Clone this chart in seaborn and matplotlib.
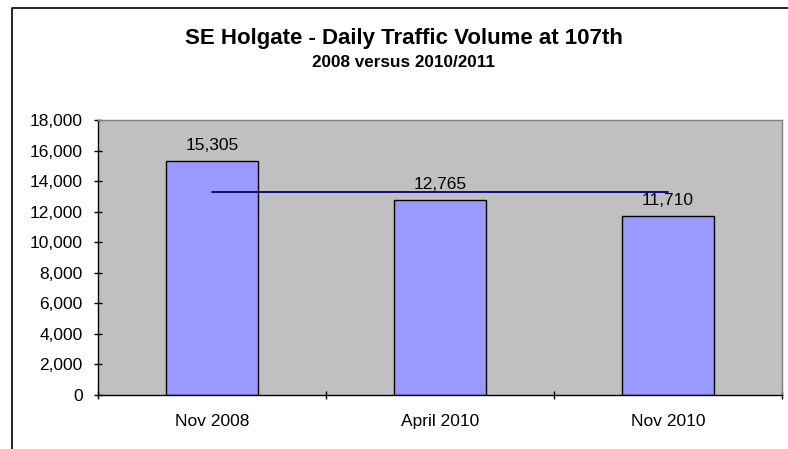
import matplotlib
matplotlib.use("Agg")
import matplotlib.pyplot as plt
import matplotlib.lines as mlines
import numpy as np
import pandas as pd
import seaborn as sns

periods = ["Nov 2008", "April 2010", "Nov 2010"]
volumes = [15305, 12765, 11710]
average = np.mean(volumes)

df = pd.DataFrame({"period": periods, "volume": volumes})

sns.set_style("white")
plt.rcParams["font.family"] = ["Liberation Sans", "DejaVu Sans"]
plt.rcParams["text.color"] = "black"
plt.rcParams["xtick.color"] = "black"
plt.rcParams["ytick.color"] = "black"

fig = plt.figure(figsize=(7.88, 4.49), dpi=100)
ax = fig.add_axes([0.1244, 0.1203, 0.868, 0.6124])
ax.set_facecolor("#C0C0C0")

sns.barplot(data=df, x="period", y="volume", color="#9999FF", saturation=1,
            edgecolor="black", linewidth=1, width=0.4, ax=ax)

# average line from first to last category
ax.plot([0, len(periods) - 1], [average, average], color="#000080", lw=1.3, zorder=3)

ax.bar_label(ax.containers[0], labels=[f"{v:,}" for v in volumes],
             padding=6, fontsize=12.5, color="black")

ax.set_xlim(-0.5, len(periods) - 0.5)
ax.set_ylim(0, 18000)
ax.set_yticks(range(0, 18001, 2000))
ax.set_yticklabels([f"{v:,}" for v in range(0, 18001, 2000)])
ax.set_xticks(np.arange(-0.5, len(periods), 1), minor=True)
ax.tick_params(axis="x", which="major", bottom=True, length=0, pad=14,
               labelsize=12.5, labelcolor="black")
ax.tick_params(axis="x", which="minor", bottom=True, length=6, direction="inout",
               width=1, color="black")
ax.tick_params(axis="y", left=True, length=6, direction="inout", width=1,
               labelsize=12.5, pad=8, color="black", labelcolor="black")
ax.set_xlabel("")
ax.set_ylabel("")

for side in ["left", "bottom"]:
    ax.spines[side].set_color("black")
    ax.spines[side].set_linewidth(1)
for side in ["top", "right"]:
    ax.spines[side].set_visible(True)
    ax.spines[side].set_color("#808080")
    ax.spines[side].set_linewidth(1)

fig.text(0.512, 0.915, "SE Holgate - Daily Traffic Volume at 107th",
         ha="center", va="center", fontsize=16, fontweight="bold", color="black")
fig.text(0.512, 0.860, "2008 versus 2010/2011",
         ha="center", va="center", fontsize=12.3, fontweight="bold", color="black")

# chart frame (left and top edges visible)
fig.add_artist(mlines.Line2D([0.0152, 0.0152, 1.0], [0.0, 0.982, 0.982],
                             transform=fig.transFigure, color="black", lw=1.2))

fig.savefig("out.png", dpi=100)
